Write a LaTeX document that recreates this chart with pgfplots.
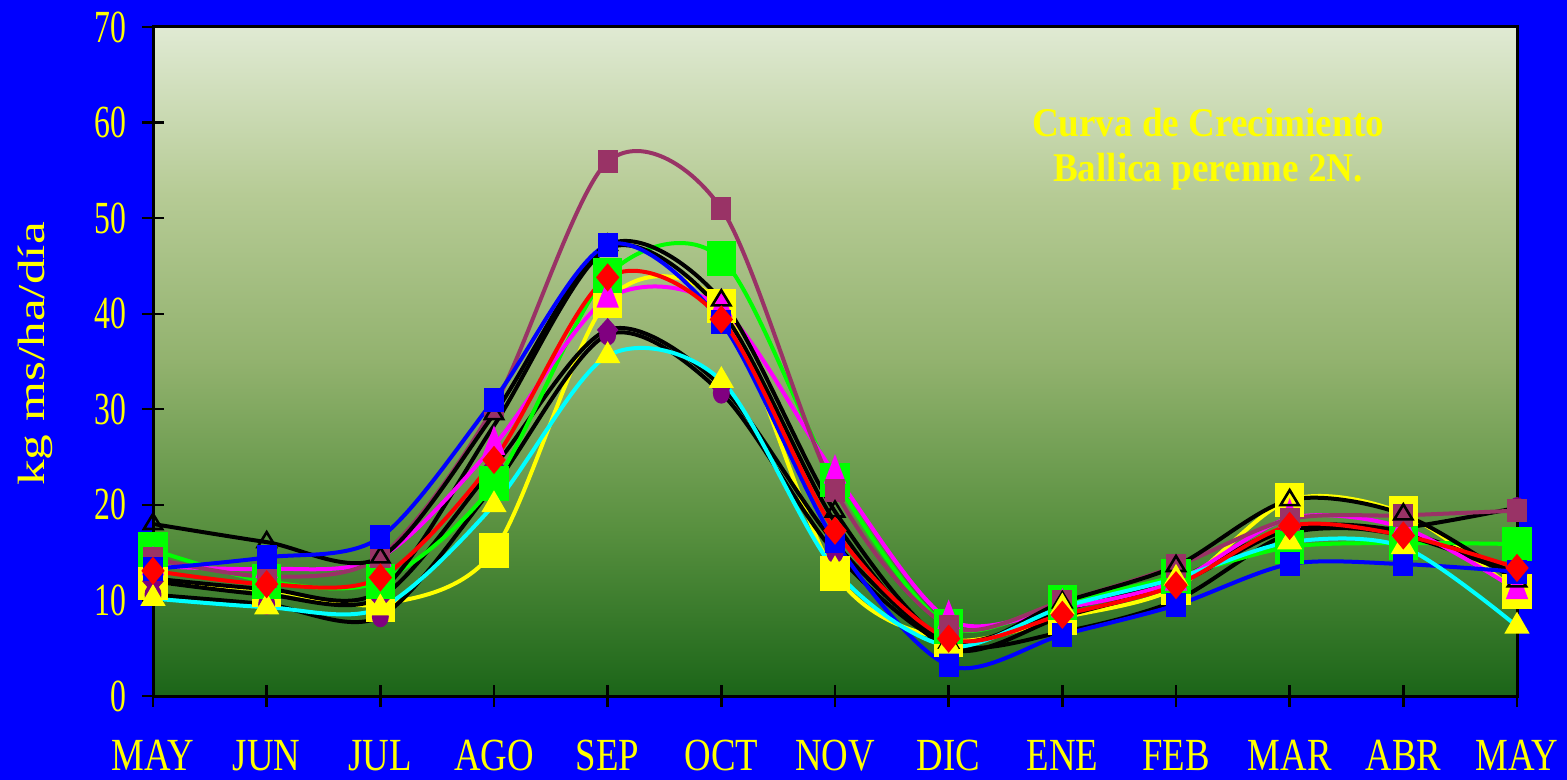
\documentclass[border=0pt]{standalone}
\usepackage{pgfplots}
\pgfplotsset{compat=1.18}
\usepackage{fontspec}
\setmainfont{Liberation Serif}
\newfontfamily\xtickfont[FakeStretch=0.8]{Liberation Serif}
\newfontfamily\ytickfont[FakeStretch=0.69]{Liberation Serif}
\newfontfamily\ylabfont[FakeStretch=1.35]{Liberation Serif}
\newfontfamily\titlefont[FakeStretch=0.91]{Liberation Serif}

\definecolor{pageblue}{HTML}{0000FF}
\definecolor{cyel}{HTML}{FFFF00}
\definecolor{cgreen}{HTML}{00FF00}
\definecolor{cmag}{HTML}{FF00FF}
\definecolor{cblue}{HTML}{0000FF}
\definecolor{cred}{HTML}{FF0000}
\definecolor{ccyan}{HTML}{00FFFF}
\definecolor{cmauve}{HTML}{993366}
\definecolor{cpurple}{HTML}{800080}
\definecolor{cteal}{HTML}{33CCCC}

% plot area background: dark green at 0, pale at 70
\definecolor{g0}{HTML}{1B6518}
\definecolor{g1}{HTML}{58903F}
\definecolor{g2}{HTML}{92B26E}
\definecolor{g3}{HTML}{B6CB95}
\definecolor{g4}{HTML}{E0EAD3}
\pgfdeclareverticalshading{plotbg}{100bp}{color(0bp)=(g0); color(25bp)=(g0); color(37.5bp)=(g1); color(50bp)=(g2); color(62.5bp)=(g3); color(75bp)=(g4); color(100bp)=(g4)}

\pgfplotsset{
  curve/.style={line width=2bp, smooth, tension=0.5},
}

\begin{document}
\begin{tikzpicture}
\fill[pageblue] (0,0) rectangle (783.5bp,390bp);
\begin{axis}[
  at={(76.5bp,42bp)}, anchor=south west,
  scale only axis, width=682bp, height=334.5bp,
  xmin=0, xmax=12, ymin=0, ymax=70,
  xtick={0,...,12},
  xticklabels={MAY,JUN,JUL,AGO,SEP,OCT,NOV,DIC,ENE,FEB,MAR,ABR,MAY},
  ytick={0,10,...,70},
  tick pos=left, tick align=center,
  major tick length=11bp,
  tick style={black, line width=1.2bp},
  axis line style={black, line width=1.5bp},
  axis background/.style={shading=plotbg},
  /pgf/number format/assume math mode=true,
  xticklabel style={font=\xtickfont\fontsize{23bp}{27bp}\selectfont, text=cyel, anchor=base, inner sep=0pt, yshift=-31.5bp},
  yticklabel style={font=\ytickfont\fontsize{23bp}{27bp}\selectfont, text=cyel, anchor=east, inner sep=0pt, xshift=-7.5bp},
  clip=false,
]
% teal circles that peep out behind other markers
\addplot[only marks, mark=*, mark size=3.8bp, mark options={fill=cteal, draw=cteal, xscale=0.9}]
  coordinates {(2,8.3) (12,19.9)};

% yellow, large squares
\addplot[curve, color=cyel, mark=square*, mark size=7.7bp, mark options={solid, fill=cyel, draw=cyel, xscale=0.82}]
  coordinates {(0,11.9) (1,11.1) (2,9.6) (3,15.2) (4,41.4) (5,40.8) (6,12.8) (7,5.9) (8,8.2) (9,11.3) (10,20.5) (11,19.1) (12,10.9)};

% black, purple diamonds
\addplot[curve, color=black, mark=diamond*, mark size=4.5bp, mark options={solid, fill=cpurple, draw=cpurple, xscale=1.2}]
  coordinates {(0,12.0) (1,10.6) (2,10.3) (3,24.0) (4,38.3) (5,32.4) (6,16.0) (7,5.8) (8,9.0) (9,12.2) (10,17.6) (11,17.2) (12,12.8)};

% black, purple circles
\addplot[curve, color=black, mark=*, mark size=4.3bp, mark options={solid, fill=cpurple, draw=cpurple, xscale=0.75}]
  coordinates {(0,10.6) (1,9.6) (2,8.3) (3,22.0) (4,37.8) (5,31.7) (6,15.0) (7,5.4) (8,6.7) (9,10.0) (10,17.0) (11,17.6) (12,19.7)};

% green, large squares
\addplot[curve, color=cgreen, mark=square*, mark size=7.7bp, mark options={solid, fill=cgreen, draw=cgreen, xscale=0.82}]
  coordinates {(0,15.3) (1,12.0) (2,12.0) (3,22.2) (4,44.0) (5,45.8) (6,22.6) (7,7.3) (8,9.8) (9,12.5) (10,15.6) (11,16.0) (12,15.9)};

% black, no marks
\addplot[curve, color=black]
  coordinates {(0,12.3) (1,11.2) (2,11.0) (3,28.3) (4,46.8) (5,40.3) (6,18.2) (7,5.0) (8,8.3) (9,11.7) (10,17.4) (11,16.8) (12,12.6)};

% magenta, triangles
\addplot[curve, color=cmag, mark=triangle*, mark size=7.3bp, mark options={solid, fill=cmag, draw=cmag, xscale=0.66}]
  coordinates {(0,13.6) (1,13.3) (2,14.5) (3,26.2) (4,41.6) (5,40.6) (6,23.2) (7,8.0) (8,9.2) (9,12.0) (10,18.6) (11,17.6) (12,11.1)};

% mauve, squares
\addplot[curve, color=cmauve, mark=square*, mark size=4.8bp, mark options={solid, fill=cmauve, draw=cmauve, xscale=0.84}]
  coordinates {(0,14.4) (1,12.5) (2,14.6) (3,30.3) (4,55.9) (5,51.0) (6,21.5) (7,7.3) (8,9.9) (9,13.6) (10,18.5) (11,18.9) (12,19.4)};

% black, open triangles
\addplot[curve, color=black, mark=triangle, mark size=5bp, mark options={solid, draw=black, line width=1.3bp, xscale=1.05}]
  coordinates {(0,18.0) (1,16.1) (2,14.5) (3,29.5) (4,47.2) (5,41.4) (6,19.3) (7,5.6) (8,9.8) (9,13.6) (10,20.5) (11,19.0) (12,12.0)};

% blue, squares
\addplot[curve, color=cblue, mark=square*, mark size=5bp, mark options={solid, fill=cblue, draw=cblue, xscale=0.8}]
  coordinates {(0,13.3) (1,14.5) (2,16.6) (3,31.0) (4,47.2) (5,39.1) (6,16.2) (7,3.2) (8,6.4) (9,9.5) (10,13.8) (11,13.8) (12,13.0)};

% cyan, yellow triangles
\addplot[curve, color=ccyan, mark=triangle*, mark size=5.3bp, mark options={solid, fill=cyel, draw=cyel}]
  coordinates {(0,10.2) (1,9.3) (2,9.2) (3,20.0) (4,35.6) (5,33.0) (6,13.2) (7,5.2) (8,9.3) (9,12.3) (10,16.1) (11,15.6) (12,7.3)};

% red, diamonds
\addplot[curve, color=cred, mark=diamond*, mark size=5.5bp, mark options={solid, fill=cred, draw=cred, xscale=1.1}]
  coordinates {(0,13.1) (1,11.7) (2,12.4) (3,24.7) (4,43.8) (5,39.4) (6,17.3) (7,6.0) (8,8.5) (9,11.6) (10,17.8) (11,16.8) (12,13.4)};
\end{axis}

\node[rotate=90, text=cyel, font=\ylabfont\fontsize{19bp}{22bp}\selectfont] at (17.5bp,213bp) {kg ms/ha/día};
\node[anchor=base, text=cyel, inner sep=0pt, font=\titlefont\bfseries\fontsize{20.4bp}{24bp}\selectfont] at (604bp,321.5bp) {Curva de Crecimiento};
\node[anchor=base, text=cyel, inner sep=0pt, font=\titlefont\bfseries\fontsize{20.4bp}{24bp}\selectfont] at (604bp,299bp) {Ballica perenne 2N.};

\pgfresetboundingbox
\path[use as bounding box] (0,0) rectangle (783.5bp,390bp);
\end{tikzpicture}
\end{document}
